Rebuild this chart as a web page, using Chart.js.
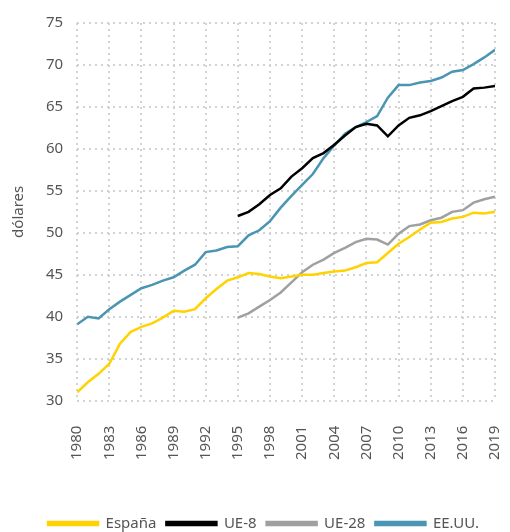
<!DOCTYPE html>
<html lang="es">
    <head>
        <meta charset="UTF-8" />
        <title>Productividad por hora</title>
        <script src="https://cdn.jsdelivr.net/npm/chart.js"></script>
        <style>
            html, body { margin: 0; padding: 0; background: #fff; }
            #wrap { width: 510px; height: 532px; }
        </style>
    </head>
    <body>
        <div id="wrap"><canvas id="grafico" width="510" height="532"></canvas></div>

        <script>
            // Años 1980-2019
            const anios = [];
            for (let a = 1980; a <= 2019; a++) anios.push(a);

            const espana = [31.0, 32.2, 33.2, 34.4, 36.8, 38.2, 38.8, 39.2, 39.9, 40.7,
                40.6, 40.9, 42.2, 43.3, 44.3, 44.7, 45.2, 45.1, 44.8, 44.6,
                44.8, 45.0, 45.0, 45.2, 45.4, 45.5, 45.9, 46.4, 46.5, 47.6,
                48.7, 49.5, 50.4, 51.2, 51.3, 51.7, 51.9, 52.4, 52.3, 52.5];
            const ue8 = [null, null, null, null, null, null, null, null, null, null,
                null, null, null, null, null, 52.0, 52.5, 53.4, 54.5, 55.3,
                56.7, 57.7, 58.9, 59.5, 60.5, 61.6, 62.6, 63.0, 62.8, 61.5,
                62.8, 63.7, 64.0, 64.5, 65.1, 65.7, 66.2, 67.2, 67.3, 67.5];
            const ue28 = [null, null, null, null, null, null, null, null, null, null,
                null, null, null, null, null, 39.9, 40.4, 41.2, 42.0, 42.9,
                44.1, 45.3, 46.2, 46.8, 47.6, 48.2, 48.9, 49.3, 49.2, 48.6,
                49.9, 50.8, 51.0, 51.5, 51.8, 52.5, 52.7, 53.6, 54.0, 54.3];
            const eeuu = [39.1, 40.0, 39.8, 40.9, 41.8, 42.6, 43.4, 43.8, 44.3, 44.7,
                45.5, 46.2, 47.7, 47.9, 48.3, 48.4, 49.7, 50.3, 51.4, 53.0,
                54.4, 55.7, 57.0, 58.9, 60.4, 61.8, 62.6, 63.2, 63.9, 66.1,
                67.6, 67.6, 67.9, 68.1, 68.5, 69.2, 69.4, 70.1, 70.9, 71.8];

            function puntos(valores) {
                return anios
                    .map((a, i) => ({ x: a, y: valores[i] }))
                    .filter((p) => p.y !== null);
            }

            const fuente = "'Noto Sans', sans-serif";
            const gris = "#555555";
            Chart.defaults.font.family = fuente;
            Chart.defaults.color = gris;

            function serie(nombre, valores, color) {
                return {
                    label: nombre,
                    data: puntos(valores),
                    borderColor: color,
                    backgroundColor: color,
                    borderWidth: 2.5,
                    pointRadius: 0,
                    tension: 0,
                };
            }

            // la leyenda va un poco más abajo y a la derecha que en Chart.js por defecto
            const moverLeyenda = {
                id: "moverLeyenda",
                afterLayout(chart) {
                    const l = chart.legend;
                    l.left += 13;
                    l.right += 13;
                    l.top += 9;
                    l.bottom += 9;
                },
            };

            // rejilla punteada dibujada con las escalas del gráfico
            const rejillaPunteada = {
                id: "rejillaPunteada",
                beforeDatasetsDraw(chart) {
                    const { ctx, chartArea: a, scales } = chart;
                    const top = Math.round(a.top);
                    const bottom = Math.round(a.bottom);
                    const left = Math.round(a.left);
                    const right = Math.round(a.right);
                    ctx.save();
                    ctx.strokeStyle = "#d2d2d2";
                    ctx.lineWidth = 2;
                    ctx.lineCap = "butt";
                    ctx.setLineDash([2, 4]);
                    scales.x.ticks.forEach((t) => {
                        const x = Math.round(scales.x.getPixelForValue(t.value));
                        ctx.beginPath();
                        ctx.moveTo(x, top);
                        ctx.lineTo(x, bottom);
                        ctx.stroke();
                    });
                    scales.y.ticks.forEach((t) => {
                        const y = Math.round(scales.y.getPixelForValue(t.value));
                        ctx.beginPath();
                        ctx.moveTo(left, y);
                        ctx.lineTo(right, y);
                        ctx.stroke();
                    });
                    ctx.restore();
                },
            };

            const sinRejilla = { display: false, drawTicks: false };

            const ctx = document.getElementById("grafico").getContext("2d");
            new Chart(ctx, {
                type: "line",
                data: {
                    datasets: [
                        serie("España", espana, "#ffd200"),
                        serie("UE-8", ue8, "#000000"),
                        serie("UE-28", ue28, "#a0a0a0"),
                        serie("EE.UU.", eeuu, "#4a94b4"),
                    ],
                },
                options: {
                    responsive: false,
                    animation: false,
                    layout: { padding: { top: 10, right: 15, left: 6, bottom: 0 } },
                    scales: {
                        x: {
                            type: "linear",
                            min: 1980,
                            max: 2019,
                            grid: sinRejilla,
                            border: { display: false },
                            ticks: {
                                stepSize: 3,
                                minRotation: 90,
                                maxRotation: 90,
                                padding: 25,
                                font: { size: 15 },
                                callback: (v) => String(v),
                            },
                            afterFit: (escala) => {
                                escala.height += 12;
                                escala.paddingRight = 0;
                            },
                        },
                        y: {
                            min: 30,
                            max: 75,
                            grid: sinRejilla,
                            border: { display: false },
                            ticks: {
                                stepSize: 5,
                                padding: 14,
                                font: { size: 15 },
                            },
                            title: {
                                display: true,
                                text: "dólares",
                                font: { size: 15 },
                                padding: { bottom: 4 },
                            },
                        },
                    },
                    plugins: {
                        legend: {
                            position: "bottom",
                            labels: {
                                boxWidth: 50,
                                boxHeight: 3,
                                padding: 10,
                                font: { size: 15 },
                            },
                        },
                        tooltip: { enabled: false },
                    },
                },
                plugins: [rejillaPunteada, moverLeyenda],
            });
        </script>
    </body>
</html>
